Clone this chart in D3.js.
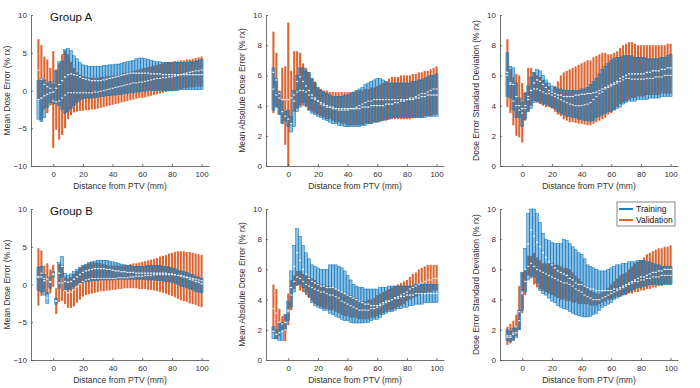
<!DOCTYPE html>
<html>
<head>
<meta charset="utf-8">
<script src="https://cdn.jsdelivr.net/npm/d3@7"></script>
<style>
  body { margin: 0; background: #fff; }
  svg { display: block; font-family: "Liberation Sans", Arial, sans-serif; }
</style>
</head>
<body>
<div id="chart"></div>
<script>
// distance from PTV (mm), one box per 2 mm
const dist = [-10,-8,-6,-4,-2,0,2,4, 6,8,10,12,14,16,18,20, 22,24,26,28,30,32,34,36, 38,40,42,44,46,48,50,52,
  54,56,58,60,62,64,66,68, 70,72,74,76,78,80,82,84, 86,88,90,92,94,96,98,100];

// ---- Group A, mean dose error
const aMeanTrainLo = [-3.8,-4.1,-3.6,-2.2,-1.6,-1.8,-1.7,-2.0, -2.5,-3.0,-2.8,-2.4,-2.0,-1.6,-1.3,-1.1, -1.0,-1.0,-1.0,-0.9,-0.9,-0.8,-0.8,-0.7,
  -0.7,-0.6,-0.6,-0.5,-0.5,-0.4,-0.4,-0.3, -0.3,-0.2,-0.2,-0.1,-0.1,0.0,0.0,0.0, 0.0,0.0,0.0,0.0,0.0,0.0,0.0,0.0, 0.1,0.1,0.1,0.1,0.1,0.1,0.1,0.1];
const aMeanTrainHi = [1.3,1.6,1.4,0.9,1.2,0.8,2.6,3.8, 3.9,5.4,5.6,5.3,4.6,4.2,3.7,3.4, 3.3,3.2,3.2,3.2,3.2,3.2,3.3,3.3,
  3.4,3.4,3.5,3.5,3.6,3.7,3.8,3.9, 4.0,4.2,4.3,4.3,4.2,4.1,4.0,3.9, 3.8,3.8,3.7,3.7,3.7,3.7,3.7,3.7, 3.7,3.7,3.7,3.8,3.8,3.9,4.0,4.1];
const aMeanTrainMed = [-1.2,-1.0,-0.7,-0.5,-0.3,-0.2,0.3,0.8, 1.3,1.8,2.1,2.2,2.1,2.0,1.8,1.6, 1.5,1.4,1.3,1.3,1.3,1.3,1.4,1.5,
  1.6,1.7,1.8,1.9,2.0,2.1,2.2,2.3, 2.3,2.3,2.3,2.3,2.3,2.3,2.2,2.2, 2.2,2.2,2.1,2.1,2.1,2.1,2.1,2.1, 2.1,2.1,2.1,2.1,2.1,2.1,2.1,2.1];
const aMeanValLo = [-1.3,-4.0,-2.5,-3.0,-2.0,-7.6,-5.2,-6.5, -5.9,-5.0,-3.8,-3.3,-2.9,-2.8,-2.7,-2.7, -2.6,-2.6,-2.5,-2.5,-2.4,-2.3,-2.2,-2.1,
  -2.0,-1.9,-1.8,-1.7,-1.6,-1.5,-1.4,-1.3, -1.2,-1.1,-1.0,-1.0,-0.9,-0.8,-0.7,-0.6, -0.5,-0.4,-0.3,-0.2,-0.1,-0.1,0.0,0.1, 0.2,0.3,0.3,0.4,0.4,0.5,0.5,0.5];
const aMeanValHi = [6.8,6.0,4.5,4.1,3.0,5.2,2.8,3.6, 4.8,5.3,4.8,3.8,3.0,2.4,2.1,1.9, 1.8,1.7,1.7,1.7,1.7,1.8,1.8,1.9,
  1.9,2.0,2.0,2.1,2.2,2.3,2.4,2.5, 2.6,2.7,2.8,2.9,3.0,3.1,3.2,3.3, 3.4,3.5,3.6,3.7,3.8,3.8,3.9,3.9, 4.0,4.0,4.1,4.1,4.2,4.3,4.4,4.5];
const aMeanValMed = [2.7,1.5,0.8,0.5,0.3,-1.4,-1.5,-1.4, -1.0,-0.6,-0.3,-0.3,-0.3,-0.3,-0.3,-0.3, -0.3,-0.3,-0.3,-0.2,-0.2,-0.1,0.0,0.1,
  0.2,0.3,0.4,0.5,0.6,0.7,0.8,0.9, 1.0,1.0,1.1,1.1,1.2,1.3,1.4,1.5, 1.6,1.6,1.7,1.7,1.8,1.8,1.9,2.0, 2.1,2.2,2.3,2.4,2.5,2.6,2.6,2.7];

// ---- Group A, mean absolute dose error
const aAbsTrainLo = [3.7,3.9,3.4,2.8,3.0,2.6,2.25,2.6, 3.6,3.9,4.2,4.0,3.7,3.5,3.4,3.3, 3.2,3.1,3.0,2.9,2.8,2.8,2.7,2.7,
  2.6,2.6,2.6,2.6,2.6,2.6,2.7,2.7, 2.8,2.8,2.9,2.9,3.0,3.0,3.1,3.1, 3.2,3.2,3.2,3.2,3.2,3.2,3.2,3.2, 3.2,3.2,3.2,3.2,3.3,3.3,3.3,3.3];
const aAbsTrainHi = [6.5,5.8,4.9,4.3,3.6,3.7,3.3,5.0, 6.0,6.5,6.5,6.3,6.2,5.8,5.5,5.2, 5.0,4.9,4.8,4.7,4.6,4.6,4.6,4.6,
  4.7,4.7,4.8,4.9,5.0,5.1,5.2,5.4, 5.5,5.6,5.7,5.8,5.8,5.7,5.6,5.5, 5.5,5.5,5.5,5.5,5.5,5.5,5.5,5.6, 5.6,5.7,5.7,5.8,5.9,6.0,6.0,6.1];
const aAbsTrainMed = [6.2,5.7,4.8,3.6,3.3,3.1,2.8,4.3, 5.6,5.9,5.6,5.3,5.0,4.7,4.5,4.3, 4.2,4.1,4.0,3.9,3.9,3.8,3.8,3.8,
  3.8,3.8,3.8,3.8,3.8,3.8,3.9,3.9, 3.9,4.0,4.0,4.0,4.0,4.0,4.1,4.1, 4.1,4.2,4.2,4.3,4.3,4.4,4.4,4.4, 4.5,4.5,4.6,4.6,4.7,4.7,4.7,4.7];
const aAbsValLo = [3.5,3.9,3.4,2.8,1.4,0.0,2.7,3.6, 3.8,4.0,4.0,3.9,3.7,3.6,3.5,3.4, 3.3,3.2,3.1,3.1,3.0,2.9,2.9,2.8,
  2.8,2.7,2.7,2.7,2.7,2.7,2.7,2.8, 2.8,2.8,2.9,2.9,2.9,3.0,3.0,3.1, 3.1,3.1,3.1,3.1,3.1,3.1,3.1,3.2, 3.2,3.2,3.2,3.3,3.3,3.3,3.4,3.4];
const aAbsValHi = [8.9,7.5,5.0,6.5,6.6,9.5,6.3,7.6, 7.6,7.5,6.8,6.5,6.2,5.8,5.6,5.2, 5.1,5.0,5.0,4.9,4.9,4.9,4.9,4.9,
  4.9,4.9,4.9,4.9,5.0,5.0,5.0,5.1, 5.1,5.2,5.2,5.3,5.4,5.5,5.6,5.8, 5.9,5.9,5.9,6.0,6.0,6.0,6.0,6.1, 6.1,6.2,6.2,6.3,6.3,6.4,6.5,6.6];
const aAbsValMed = [5.1,4.7,4.5,4.4,4.4,4.4,4.5,4.7, 4.9,5.0,5.0,4.9,4.7,4.5,4.4,4.3, 4.1,4.0,3.9,3.9,3.8,3.8,3.7,3.7,
  3.7,3.7,3.8,3.8,3.9,4.0,4.1,4.2, 4.3,4.3,4.4,4.4,4.4,4.4,4.4,4.4, 4.4,4.4,4.4,4.4,4.4,4.4,4.5,4.5, 4.6,4.7,4.8,4.8,4.9,5.0,5.1,5.1];

// ---- Group A, dose error standard deviation
const aSdTrainLo = [4.6,4.5,3.7,3.2,3.2,2.6,3.1,3.6, 3.8,4.2,4.3,4.2,4.1,4.1,4.0,3.9, 3.8,3.6,3.5,3.4,3.3,3.3,3.2,3.2,
  3.1,3.1,3.0,3.0,2.95,3.0,3.2,3.3, 3.4,3.5,3.6,3.6,3.7,3.8,3.9,4.1, 4.2,4.3,4.3,4.3,4.4,4.4,4.4,4.4, 4.5,4.5,4.5,4.5,4.6,4.6,4.6,4.6];
const aSdTrainHi = [7.5,6.6,6.5,5.5,4.5,4.2,4.8,5.3, 5.9,6.2,6.4,6.3,6.0,5.7,5.5,5.3, 5.2,5.1,5.1,5.0,5.0,5.0,5.0,5.0,
  5.0,5.1,5.1,5.2,5.4,5.6,5.8,6.1, 6.4,6.6,6.8,7.0,7.1,7.2,7.2,7.3, 7.3,7.3,7.3,7.2,7.2,7.2,7.2,7.1, 7.1,7.1,7.1,7.1,7.2,7.2,7.3,7.4];
const aSdTrainMed = [6.2,5.5,5.4,4.6,4.0,3.8,4.0,4.4, 5.0,5.5,5.7,5.6,5.4,5.2,5.0,4.9, 4.8,4.7,4.7,4.6,4.6,4.6,4.6,4.7,
  4.7,4.75,4.75,4.8,4.8,4.85,4.9,5.0, 5.1,5.2,5.3,5.4,5.5,5.6,5.8,5.9, 6.0,6.1,6.1,6.1,6.1,6.1,6.1,6.2, 6.2,6.3,6.3,6.3,6.4,6.4,6.5,6.5];
const aSdValLo = [3.9,3.5,2.7,2.0,1.9,1.55,3.0,3.6, 4.0,4.3,4.2,4.1,4.0,3.9,3.9,3.8, 3.6,3.4,3.3,3.1,3.0,2.9,2.9,2.85,
  2.8,2.8,2.75,2.7,2.7,2.8,2.9,3.0, 3.1,3.2,3.4,3.5,3.7,3.9,4.1,4.2, 4.3,4.4,4.5,4.5,4.6,4.6,4.6,4.7, 4.7,4.7,4.7,4.7,4.8,4.8,4.8,4.8];
const aSdValHi = [8.4,6.4,5.9,6.1,6.0,5.5,4.9,6.5, 6.5,6.2,6.0,5.9,5.7,5.5,5.3,5.0, 5.3,5.6,6.0,6.2,6.3,6.4,6.5,6.6,
  6.7,6.8,6.9,7.0,7.0,7.2,7.3,7.4, 7.5,7.5,7.4,7.4,7.5,7.6,7.8,8.0, 8.1,8.2,8.2,8.1,8.0,8.0,8.0,8.0, 8.0,8.0,8.0,8.0,8.0,8.0,8.1,8.1];
const aSdValMed = [6.0,5.4,4.3,4.0,3.7,3.5,3.8,4.6, 5.0,5.1,5.1,5.0,4.9,4.8,4.8,4.7, 4.6,4.5,4.4,4.3,4.2,4.1,4.05,4.0,
  4.0,4.0,4.05,4.1,4.2,4.4,4.6,4.8, 4.9,5.1,5.2,5.3,5.4,5.5,5.6,5.7, 5.8,5.8,5.75,5.75,5.75,5.75,5.75,5.8, 5.8,5.8,5.9,5.9,5.9,6.0,6.0,6.0];

// ---- Group B, mean dose error
const bMeanTrainLo = [-0.8,-1.0,-1.4,-2.5,-0.5,1.0,-2.6,-0.5, 1.0,-0.8,-0.7,-0.6,-0.3,0.0,0.2,0.3, 0.4,0.4,0.5,0.5,0.5,0.6,0.6,0.6,
  0.6,0.6,0.7,0.7,0.7,0.7,0.7,0.7, 0.7,0.7,0.7,0.7,0.7,0.6,0.6,0.6, 0.5,0.5,0.5,0.4,0.4,0.3,0.2,0.0, -0.2,-0.3,-0.4,-0.6,-0.7,-0.9,-1.0,-1.1];
const bMeanTrainHi = [2.3,2.4,1.3,-1.1,1.0,1.7,-1.8,2.9, 3.7,1.5,1.2,1.4,1.7,2.0,2.3,2.5, 2.7,2.9,3.0,3.1,3.2,3.2,3.2,3.2,
  3.1,3.0,2.9,2.8,2.7,2.6,2.5,2.5, 2.4,2.4,2.4,2.4,2.4,2.5,2.5,2.5, 2.5,2.5,2.4,2.4,2.3,2.2,2.1,1.9, 1.8,1.7,1.6,1.4,1.3,1.1,1.0,0.8];
const bMeanTrainMed = [1.0,1.0,0.5,-1.8,0.3,1.3,-2.2,1.5, 2.4,0.4,0.3,0.4,0.7,1.0,1.3,1.6, 1.8,1.9,2.0,2.1,2.1,2.1,2.1,2.0,
  2.0,1.9,1.8,1.8,1.7,1.7,1.6,1.6, 1.6,1.5,1.5,1.5,1.5,1.5,1.5,1.5, 1.5,1.5,1.5,1.5,1.4,1.4,1.3,1.2, 1.1,1.0,0.9,0.7,0.6,0.4,0.3,0.1];
const bMeanValLo = [-2.8,-1.5,-1.0,-1.3,-1.2,-0.3,-3.9,-2.3, -2.2,-2.6,-3.1,-3.1,-2.9,-2.4,-2.0,-1.6, -1.4,-1.3,-1.2,-1.1,-1.0,-0.9,-0.9,-0.8,
  -0.8,-0.7,-0.7,-0.6,-0.6,-0.5,-0.5,-0.5, -0.5,-0.5,-0.6,-0.6,-0.6,-0.7,-0.7,-0.8, -0.9,-1.0,-1.1,-1.2,-1.4,-1.5,-1.7,-1.9, -2.1,-2.2,-2.3,-2.5,-2.6,-2.7,-2.9,-3.0];
const bMeanValHi = [4.8,4.5,2.5,2.8,2.0,2.6,-0.5,2.7, 2.6,1.0,0.8,1.0,1.4,1.8,2.2,2.5, 2.6,2.8,2.9,2.9,2.9,2.8,2.7,2.6,
  2.5,2.5,2.5,2.5,2.5,2.6,2.6,2.7, 2.8,2.8,2.9,3.0,3.1,3.2,3.3,3.4, 3.5,3.7,3.8,3.9,4.1,4.2,4.3,4.4, 4.4,4.4,4.3,4.3,4.2,4.1,4.0,3.9];
const bMeanValMed = [1.0,1.5,0.8,0.7,0.4,1.4,-2.2,0.2, 0.2,-0.8,-1.1,-1.0,-0.7,-0.3,0.1,0.4, 0.6,0.7,0.8,0.8,0.8,0.8,0.8,0.8,
  0.8,0.8,0.8,0.9,0.9,0.9,0.9,1.0, 1.0,1.1,1.1,1.1,1.2,1.2,1.2,1.3, 1.3,1.3,1.3,1.3,1.3,1.3,1.3,1.2, 1.2,1.1,1.0,0.9,0.8,0.7,0.6,0.5];

// ---- Group B, mean absolute dose error
const bAbsTrainLo = [1.4,1.4,1.3,1.3,2.0,2.6,3.5,4.5, 5.0,5.0,4.8,4.5,4.2,3.8,3.6,3.5, 3.4,3.3,3.3,3.1,3.0,2.9,2.8,2.7,
  2.6,2.6,2.5,2.45,2.45,2.45,2.45,2.5, 2.5,2.6,2.7,2.7,2.8,3.0,3.1,3.2, 3.2,3.3,3.4,3.4,3.5,3.5,3.6,3.6, 3.7,3.7,3.7,3.8,3.8,3.8,3.8,3.8];
const bAbsTrainHi = [2.2,2.0,2.4,2.5,3.0,3.9,5.9,7.6, 8.7,8.2,7.6,7.1,6.7,6.3,6.2,6.1, 6.0,6.0,6.0,6.3,6.3,6.3,6.2,6.1,
  5.9,5.6,5.3,5.0,4.9,4.8,4.8,4.7, 4.7,4.7,4.7,4.7,4.8,4.8,4.8,4.9, 4.9,4.9,4.9,4.9,4.9,4.9,4.9,4.9, 5.0,5.0,5.0,5.0,5.0,5.0,5.0,5.0];
const bAbsTrainMed = [1.9,1.7,1.8,1.9,2.5,3.3,4.8,6.2, 7.1,6.6,6.0,5.7,5.4,5.2,5.1,5.0, 4.9,4.9,4.8,4.8,4.8,4.7,4.6,4.5,
  4.4,4.3,4.2,4.1,4.0,3.9,3.8,3.7, 3.7,3.6,3.6,3.6,3.7,3.8,3.9,3.9, 4.0,4.1,4.1,4.2,4.2,4.3,4.3,4.3, 4.4,4.4,4.4,4.4,4.4,4.4,4.4,4.4];
const bAbsValLo = [1.8,1.4,1.6,2.0,1.25,2.3,3.3,4.7, 4.9,4.6,4.5,4.3,4.1,3.9,3.7,3.6, 3.5,3.4,3.4,3.3,3.3,3.2,3.1,3.0,
  2.9,2.9,2.8,2.8,2.8,2.7,2.7,2.7, 2.7,2.8,2.8,2.9,3.0,3.1,3.2,3.3, 3.3,3.4,3.5,3.6,3.7,3.9,4.0,4.1, 4.2,4.3,4.4,4.4,4.5,4.5,4.6,4.6];
const bAbsValHi = [5.0,4.7,3.4,2.9,3.0,4.4,5.3,5.6, 5.9,5.9,5.7,5.6,5.5,5.4,5.3,5.1, 5.0,5.0,4.9,4.9,4.8,4.7,4.6,4.5,
  4.4,4.4,4.3,4.2,4.1,4.0,3.9,3.9, 4.0,4.0,4.1,4.3,4.4,4.5,4.6,4.7, 4.8,4.9,5.0,5.1,5.2,5.3,5.5,5.7, 5.8,6.0,6.1,6.2,6.3,6.3,6.3,6.3];
const bAbsValMed = [3.4,3.1,2.5,2.4,2.0,3.2,4.3,5.2, 5.5,5.4,5.2,5.0,4.9,4.8,4.7,4.6, 4.5,4.5,4.4,4.3,4.3,4.2,4.1,3.9,
  3.8,3.7,3.6,3.5,3.4,3.3,3.3,3.3, 3.3,3.4,3.4,3.5,3.6,3.7,3.8,3.9, 4.0,4.1,4.2,4.3,4.4,4.5,4.7,4.8, 4.9,5.0,5.1,5.2,5.3,5.3,5.4,5.4];

// ---- Group B, dose error standard deviation
const bSdTrainLo = [1.3,1.2,1.3,1.5,2.0,3.3,4.5,5.3, 5.6,5.5,5.1,4.6,4.4,4.3,4.1,3.9, 3.8,3.6,3.5,3.4,3.35,3.2,3.1,3.0,
  2.95,2.9,2.85,2.85,2.9,3.0,3.1,3.3, 3.5,3.6,3.7,3.8,4.0,4.1,4.2,4.3, 4.4,4.5,4.6,4.7,4.8,4.8,4.9,4.9, 5.0,5.0,5.0,5.0,5.0,5.0,5.0,5.0];
const bSdTrainHi = [2.0,1.9,2.1,2.2,3.3,5.8,7.4,9.7, 10.0,10.0,9.7,9.1,8.4,8.0,7.9,7.8, 7.7,7.7,7.7,8.0,7.9,7.7,7.5,7.3,
  7.1,7.0,6.7,6.3,6.2,6.1,6.0,5.9, 5.9,5.9,6.0,6.1,6.2,6.3,6.3,6.4, 6.4,6.5,6.5,6.5,6.6,6.6,6.6,6.5, 6.5,6.4,6.3,6.3,6.2,6.2,6.2,6.2];
const bSdTrainMed = [1.6,1.5,1.7,1.8,2.6,4.5,6.0,7.7, 8.6,8.2,7.8,7.5,7.1,6.8,6.5,6.3, 6.1,5.9,5.8,5.7,5.6,5.4,5.3,5.1,
  5.0,5.0,4.9,4.8,4.7,4.7,4.6,4.6, 4.6,4.6,4.6,4.6,4.7,4.7,4.8,4.9, 5.0,5.1,5.2,5.3,5.4,5.5,5.5,5.6, 5.7,5.8,5.8,5.9,5.9,6.0,6.0,6.0];
const bSdValLo = [1.0,1.1,1.3,1.6,2.0,3.1,4.3,5.6, 5.4,5.0,4.8,4.7,4.6,4.5,4.4,4.3, 4.2,4.1,4.0,4.0,3.9,3.9,3.8,3.8,
  3.7,3.7,3.7,3.7,3.6,3.6,3.6,3.7, 3.8,3.9,4.0,4.0,4.1,4.2,4.2,4.3, 4.3,4.4,4.4,4.5,4.5,4.6,4.6,4.7, 4.7,4.8,4.8,4.9,4.9,5.0,5.0,5.0];
const bSdValHi = [2.2,2.4,2.6,3.0,4.9,5.8,6.0,6.9, 6.9,7.1,6.8,6.6,6.4,6.4,6.4,6.4, 6.3,6.3,6.2,6.1,6.1,6.0,5.8,5.6,
  5.4,5.2,5.0,4.8,4.6,4.5,4.4,4.4, 4.5,4.6,4.8,5.0,5.2,5.4,5.6,5.7, 5.8,6.0,6.2,6.4,6.5,6.6,6.8,7.0, 7.1,7.2,7.3,7.4,7.4,7.5,7.5,7.6];
const bSdValMed = [1.5,1.6,1.8,2.2,3.2,4.4,5.2,6.2, 6.4,6.2,6.0,5.9,5.8,5.7,5.6,5.5, 5.4,5.3,5.2,5.1,5.1,5.0,4.9,4.7,
  4.6,4.5,4.3,4.2,4.1,4.0,4.0,4.0, 4.1,4.2,4.3,4.4,4.5,4.6,4.7,4.8, 4.9,5.0,5.1,5.2,5.2,5.3,5.3,5.4, 5.4,5.5,5.5,5.5,5.6,5.6,5.6,5.6];

// axis ticks
const xTicks = [0, 20, 40, 60, 80, 100];
const meanTicks = [-10, -5, 0, 5, 10];
const posTicks = [0, 2, 4, 6, 8, 10];
const seriesNames = ["Training", "Validation"];

const blue = "#0072BD", orange = "#D95319", axisCol = "#4d4d4d";

const width = 700, height = 388;
const colLeft = [31, 266, 500], rowTop = [15, 209];
const axW = 178, axH = 151;

const panels = [
  {row: 0, col: 0, dom: [-10, 10], ticks: meanTicks, label: "Mean Dose Error (% rx)", title: "Group A",
   tr: [aMeanTrainLo, aMeanTrainHi, aMeanTrainMed], va: [aMeanValLo, aMeanValHi, aMeanValMed]},
  {row: 0, col: 1, dom: [0, 10], ticks: posTicks, label: "Mean Absolute Dose Error (% rx)",
   tr: [aAbsTrainLo, aAbsTrainHi, aAbsTrainMed], va: [aAbsValLo, aAbsValHi, aAbsValMed]},
  {row: 0, col: 2, dom: [0, 10], ticks: posTicks, label: "Dose Error Standard Deviation (% rx)",
   tr: [aSdTrainLo, aSdTrainHi, aSdTrainMed], va: [aSdValLo, aSdValHi, aSdValMed]},
  {row: 1, col: 0, dom: [-10, 10], ticks: meanTicks, label: "Mean Dose Error (% rx)", title: "Group B",
   tr: [bMeanTrainLo, bMeanTrainHi, bMeanTrainMed], va: [bMeanValLo, bMeanValHi, bMeanValMed]},
  {row: 1, col: 1, dom: [0, 10], ticks: posTicks, label: "Mean Absolute Dose Error (% rx)",
   tr: [bAbsTrainLo, bAbsTrainHi, bAbsTrainMed], va: [bAbsValLo, bAbsValHi, bAbsValMed]},
  {row: 1, col: 2, dom: [0, 10], ticks: posTicks, label: "Dose Error Standard Deviation (% rx)", legend: true,
   tr: [bSdTrainLo, bSdTrainHi, bSdTrainMed], va: [bSdValLo, bSdValHi, bSdValMed]}
];

const svg = d3.select("#chart").append("svg")
  .attr("width", width).attr("height", height);
svg.append("rect").attr("width", width).attr("height", height).attr("fill", "#fff");

panels.forEach(p => {
  const left = colLeft[p.col], top = rowTop[p.row];
  const x = d3.scaleLinear().domain([-15, 105]).range([left, left + axW]);
  const y = d3.scaleLinear().domain(p.dom).range([top + axH, top]);
  const g = svg.append("g");

  const rows = (s) => dist.map((d, i) => ({d: d, lo: s[0][i], hi: s[1][i], med: s[2][i]}));

  // validation bars (underneath)
  g.append("g").selectAll("rect").data(rows(p.va)).enter().append("rect")
    .attr("x", d => x(d.d - 0.7))
    .attr("width", d => x(d.d + 0.7) - x(d.d - 0.7))
    .attr("y", d => y(d.hi))
    .attr("height", d => Math.max(0.5, y(d.lo) - y(d.hi)))
    .attr("fill", orange)
    .attr("fill-opacity", 0.9);

  // training boxes on top, see-through
  g.append("g").selectAll("rect").data(rows(p.tr)).enter().append("rect")
    .attr("x", d => x(d.d - 1))
    .attr("width", d => x(d.d + 1) - x(d.d - 1))
    .attr("y", d => y(d.hi))
    .attr("height", d => Math.max(0.5, y(d.lo) - y(d.hi)))
    .attr("fill", blue)
    .attr("fill-opacity", 0.45)
    .attr("stroke", blue)
    .attr("stroke-width", 0.5);

  // medians
  [p.va, p.tr].forEach((s, k) => {
    g.append("g").selectAll("line").data(rows(s)).enter().append("line")
      .attr("x1", d => x(d.d - 0.7)).attr("x2", d => x(d.d + 0.7))
      .attr("y1", d => y(d.med)).attr("y2", d => y(d.med))
      .attr("stroke", k == 0 ? "#fbe3d6" : "#ffffff")
      .attr("stroke-width", 1.2);
  });

  // axes
  const xAxis = d3.axisBottom(x).tickValues(xTicks).tickSizeInner(-2).tickSizeOuter(0).tickPadding(5);
  const yAxis = d3.axisLeft(y).tickValues(p.ticks).tickSizeInner(-2).tickSizeOuter(0).tickPadding(4);
  [svg.append("g").attr("transform", "translate(0," + (top + axH) + ")").call(xAxis),
   svg.append("g").attr("transform", "translate(" + left + ",0)").call(yAxis)]
    .forEach(a => {
      a.select(".domain").attr("stroke", axisCol).attr("stroke-width", 0.8);
      a.selectAll(".tick line").attr("stroke", axisCol).attr("stroke-width", 0.8);
      a.selectAll("text").attr("fill", "#333").style("font-size", "8px")
        .style("font-family", "'Liberation Sans', Arial, sans-serif");
    });

  svg.append("text")
    .attr("x", left + axW / 2).attr("y", top + axH + 23)
    .attr("text-anchor", "middle").attr("fill", "#333").style("font-size", "8.5px")
    .text("Distance from PTV (mm)");

  svg.append("text")
    .attr("transform", "translate(" + (left - 21) + "," + (top + axH / 2) + ") rotate(-90)")
    .attr("text-anchor", "middle").attr("fill", "#333").style("font-size", "8.5px")
    .text(p.label);

  if (p.title) {
    svg.append("text").attr("x", left + 19).attr("y", top + 6)
      .attr("fill", "#111").style("font-size", "11.5px").text(p.title);
  }

  if (p.legend) {
    const lg = svg.append("g").attr("transform", "translate(617," + (top - 7) + ")");
    lg.append("rect").attr("width", 58).attr("height", 24)
      .attr("fill", "#fff").attr("stroke", "#333").attr("stroke-width", 0.6);
    seriesNames.forEach((n, i) => {
      const yy = 7 + i * 11;
      lg.append("line").attr("x1", 2).attr("x2", 16).attr("y1", yy).attr("y2", yy)
        .attr("stroke", i == 0 ? blue : orange).attr("stroke-width", 1.8);
      lg.append("text").attr("x", 19).attr("y", yy + 3)
        .attr("fill", "#111").style("font-size", "8.5px").text(n);
    });
  }
});
</script>
</body>
</html>
